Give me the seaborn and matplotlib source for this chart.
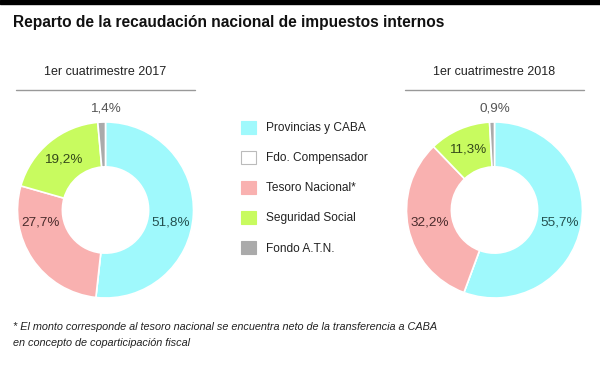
import matplotlib
matplotlib.use("Agg")
import matplotlib.pyplot as plt
import seaborn as sns
import numpy as np
from matplotlib.patches import Patch, Rectangle

sns.set_theme(style="white")
plt.rcParams['font.family'] = ['Liberation Sans', 'DejaVu Sans']

categories = ["Provincias y CABA", "Fdo. Compensador", "Tesoro Nacional*",
              "Seguridad Social", "Fondo A.T.N."]
values_2017 = [51.8, 0.0, 27.7, 19.2, 1.4]
values_2018 = [55.7, 0.0, 32.2, 11.3, 0.9]
labels_2017 = ["51,8%", "", "27,7%", "19,2%", "1,4%"]
labels_2018 = ["55,7%", "", "32,2%", "11,3%", "0,9%"]
subtitles = ["1er cuatrimestre 2017", "1er cuatrimestre 2018"]
colors = sns.color_palette(["#9ff9fc", "#ffffff", "#f9b1b0", "#c8fb5f", "#aaaaaa"])
text_colors = ["#24504f", "#333333", "#4a2c2c", "#34491a", "#555555"]

W, H = 600, 365
fig = plt.figure(figsize=(W / 100, H / 100), dpi=100)

# top black bar
fig.patches.append(Rectangle((0, 1 - 4 / H), 1, 4 / H, transform=fig.transFigure,
                             color="black", zorder=0))

fig.text(13 / W, 1 - 23 / H, "Reparto de la recaudación nacional de impuestos internos",
         fontsize=11.2, fontweight="bold", va="center", ha="left", color="#111111")

R = 88
centers = [(105.5, 210), (494.5, 210)]
datasets = [(values_2017, labels_2017), (values_2018, labels_2018)]


def crosses(a0, a1, target):
    # a0 > a1 (clockwise), angles in degrees
    for k in range(-2, 3):
        t = target + 360 * k
        if a1 <= t <= a0:
            return True
    return False


for (cx, cy), (vals, labs), sub in zip(centers, datasets, subtitles):
    ax = fig.add_axes([(cx - R) / W, (H - cy - R) / H, 2 * R / W, 2 * R / H])
    wedges, _ = ax.pie(vals, colors=colors, startangle=90, counterclock=False,
                       radius=1, wedgeprops=dict(width=0.51, edgecolor="white", linewidth=1.2))
    ax.set_xlim(-1, 1)
    ax.set_ylim(-1, 1)
    ax.set_aspect("equal")
    ax.axis("off")
    total = sum(vals)
    cum = 0
    for v, lab, tc in zip(vals, labs, text_colors):
        if v > 0 and lab:
            a0 = 90 - cum / total * 360
            a1 = 90 - (cum + v) / total * 360
            mid = (a0 + a1) / 2
            if crosses(a0, a1, 0):
                mid = -10.5
            elif crosses(a0, a1, 180):
                mid = -169.5
            if v > 5:
                r = 0.75
                x, y = r * np.cos(np.radians(mid)), r * np.sin(np.radians(mid))
            else:
                x, y = 0.0, 1.15
            ax.text(x, y, lab, ha="center", va="center", fontsize=9.7,
                    color=tc)
        cum += v
    fig.text(cx / W, 1 - 72 / H, sub, ha="center", va="center", fontsize=9,
             color="#222222")
    fig.add_artist(plt.Line2D([(cx - 90) / W, (cx + 89) / W], [1 - 90 / H, 1 - 90 / H],
                              transform=fig.transFigure, color="#999999", lw=1))

handles = [Patch(facecolor=c, edgecolor=("#bbbbbb" if i == 1 else c), linewidth=0.8)
           for i, c in enumerate(colors)]
fig.legend(handles, categories, loc="upper left", bbox_to_anchor=(241 / W, 1 - 121 / H),
           frameon=False, fontsize=8.6, handlelength=1.25, handleheight=1.25,
           labelspacing=1.4, handletextpad=0.85, borderaxespad=0, borderpad=0,
           labelcolor="#222222")

fig.text(13 / W, 1 - 327 / H,
         "* El monto corresponde al tesoro nacional se encuentra neto de la transferencia a CABA",
         fontsize=7.8, style="italic", va="center", color="#222222")
fig.text(13 / W, 1 - 343 / H, "en concepto de coparticipación fiscal",
         fontsize=7.8, style="italic", va="center", color="#222222")

fig.savefig("out.png", dpi=100)
